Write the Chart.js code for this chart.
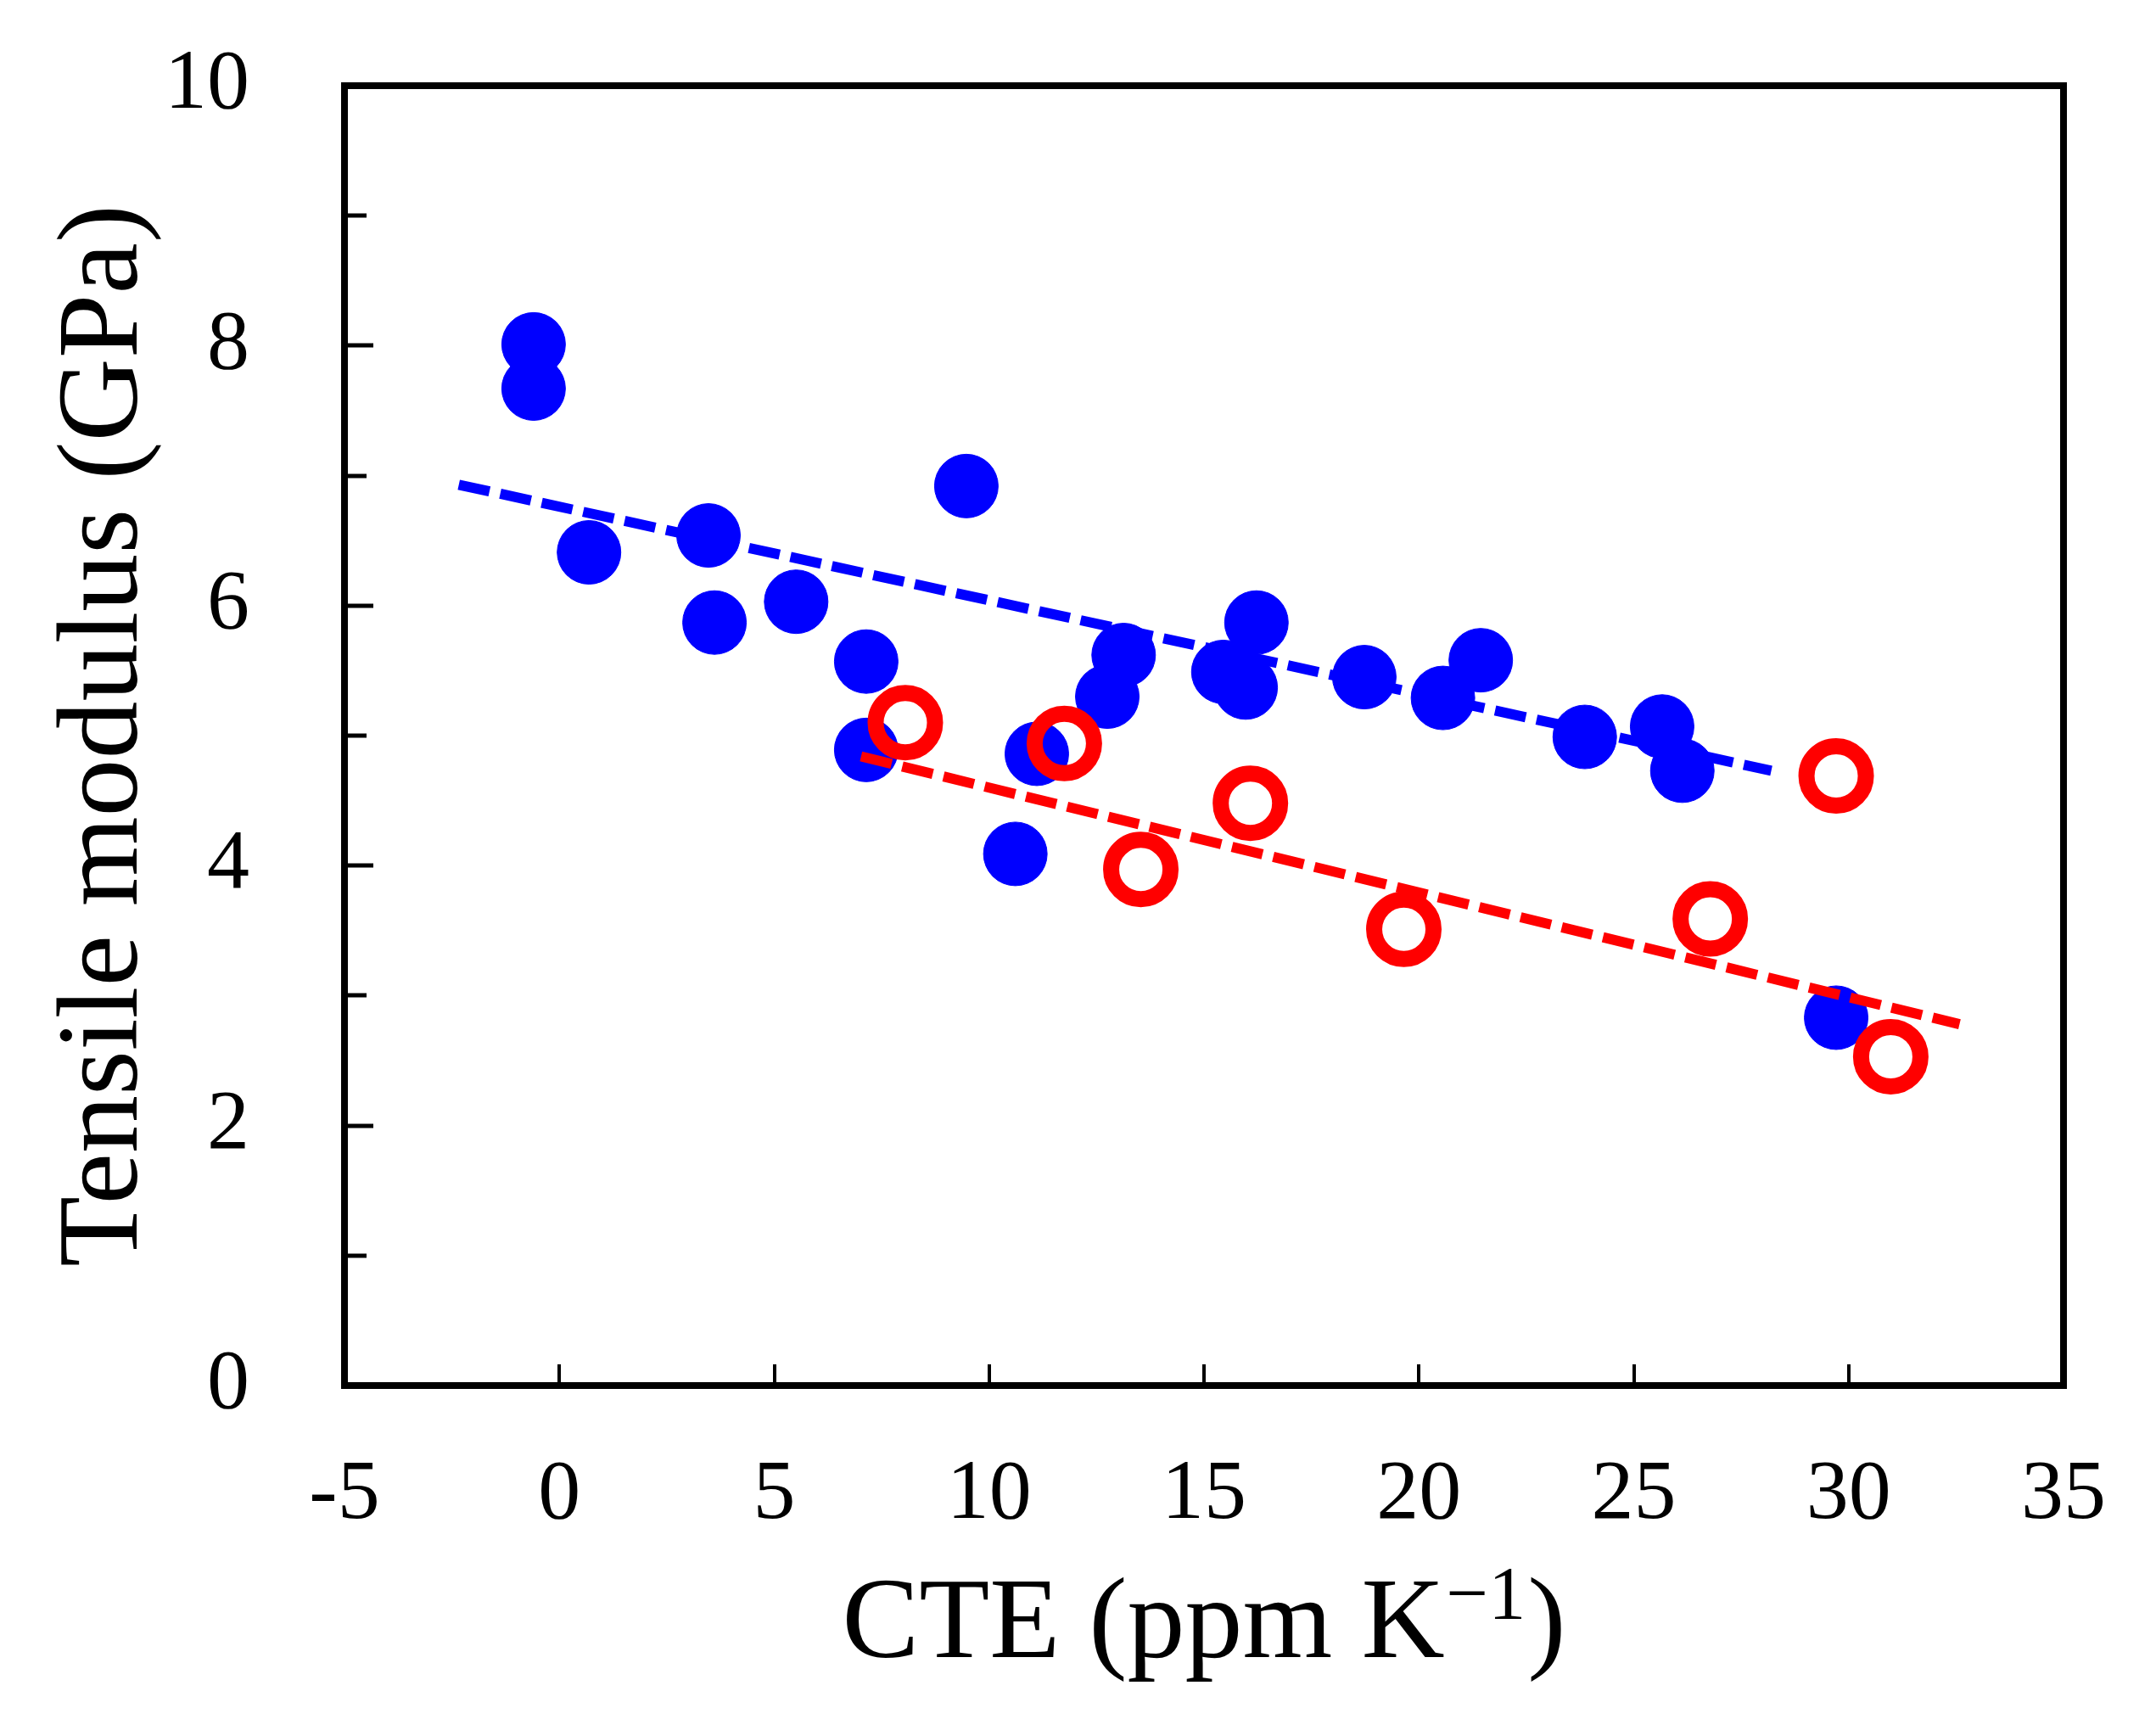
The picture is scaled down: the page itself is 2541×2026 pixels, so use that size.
<!DOCTYPE html>
<html>
<head>
<meta charset="utf-8">
<script src="https://cdn.jsdelivr.net/npm/chart.js@4.4.1/dist/chart.umd.min.js"></script>
<style>
  html, body { margin: 0; padding: 0; background: #fff; }
  #wrap { width: 2541px; height: 2026px; }
</style>
</head>
<body>
<div id="wrap"><canvas id="chart" width="2541" height="2026"></canvas></div>
<script>
// filled blue circles
const blueX = [-0.60, -0.60, 0.69, 3.47, 3.61, 5.51, 9.47, 7.14, 7.14, 11.11, 10.61, 13.13,
               12.75, 15.45, 15.97, 16.22, 18.73, 20.56, 21.44, 23.86, 25.66, 26.13, 29.71];
const blueY = [8.01, 7.67, 6.41, 6.54, 5.87, 6.03, 6.92, 5.57, 4.89, 4.86, 4.09, 5.62,
               5.30, 5.49, 5.37, 5.87, 5.45, 5.29, 5.58, 4.99, 5.07, 4.73, 2.83];

// open red circles
const redX = [8.05, 11.75, 13.53, 16.08, 19.65, 26.78, 29.71, 30.98];
const redY = [5.10, 4.94, 3.97, 4.48, 3.51, 3.59, 4.69, 2.53];

// dashed trend lines (end points)
const blueFitX = [-2.34, 28.20];
const blueFitY = [6.93, 4.73];
const redFitX = [7.02, 32.58];
const redFitY = [4.84, 2.78];

// axes
const xMin = -5, xMax = 35, xStep = 5;
const yMin = 0, yMax = 10, yStep = 1;
const xTitle = 'CTE (ppm K';
const xTitleSup = '\u22121';
const yTitle = 'Tensile modulus (GPa)';

const SERIF = "'Liberation Serif', 'Times New Roman', serif";
const toPts = (xs, ys) => xs.map((x, i) => ({ x, y: ys[i] }));

// wanted plot box inside the 2541x2026 canvas
const AREA = { left: 406, right: 2432, top: 101, bottom: 1633 };

// ── frame, inward ticks, x title ──
const framePlugin = {
    id: 'frame',
    afterDraw(chart) {
        const { ctx, chartArea: a, scales: { x, y } } = chart;
        ctx.save();
        ctx.strokeStyle = '#000';
        ctx.fillStyle = '#000';

        // y ticks, longer on labelled values
        ctx.lineWidth = 5;
        ctx.beginPath();
        for (let v = yMin + yStep; v < yMax; v += yStep) {
            const py = Math.round(y.getPixelForValue(v));
            const len = v % 2 === 0 ? 34 : 26;
            ctx.moveTo(a.left, py);
            ctx.lineTo(a.left + len, py);
        }
        ctx.stroke();

        // x ticks
        ctx.lineWidth = 4;
        ctx.beginPath();
        for (let v = xMin + xStep; v < xMax; v += xStep) {
            const px = Math.round(x.getPixelForValue(v));
            ctx.moveTo(px, a.bottom);
            ctx.lineTo(px, a.bottom - 25);
        }
        ctx.stroke();

        // box
        ctx.lineWidth = 8;
        ctx.strokeRect(a.left, a.top, a.right - a.left, a.bottom - a.top);

        // x title with superscript
        const big = '136px ' + SERIF, small = '88px ' + SERIF;
        ctx.textBaseline = 'alphabetic';
        ctx.textAlign = 'left';
        ctx.font = big;
        const w1 = ctx.measureText(xTitle).width;
        const w3 = ctx.measureText(')').width;
        ctx.font = small;
        const w2 = ctx.measureText(xTitleSup).width;
        const total = w1 + w2 + 4 + w3;
        let tx = (a.left + a.right) / 2 - total / 2;
        const base = 1953;
        ctx.font = big;
        ctx.fillText(xTitle, tx, base);
        tx += w1 + 2;
        ctx.font = small;
        ctx.fillText(xTitleSup, tx, base - 46);
        tx += w2 + 2;
        ctx.font = big;
        ctx.fillText(')', tx, base);

        ctx.restore();
    }
};

const chart = new Chart(document.getElementById('chart').getContext('2d'), {
    type: 'scatter',
    data: {
        datasets: [
            {
                label: 'open',
                data: toPts(redX, redY),
                pointRadius: 35, pointHoverRadius: 35,
                pointBorderWidth: 19, pointHoverBorderWidth: 19,
                borderColor: '#ff0000',
                backgroundColor: 'rgba(0,0,0,0)',
                order: 0,
            },
            {
                label: 'open fit',
                data: toPts(redFitX, redFitY),
                showLine: true, pointRadius: 0,
                borderColor: '#ff0000', borderWidth: 12,
                borderDash: [37, 13], borderCapStyle: 'butt',
                order: 1,
            },
            {
                label: 'filled fit',
                data: toPts(blueFitX, blueFitY),
                showLine: true, pointRadius: 0,
                borderColor: '#0000ff', borderWidth: 12,
                borderDash: [37, 13], borderCapStyle: 'butt',
                order: 2,
            },
            {
                label: 'filled',
                data: toPts(blueX, blueY),
                pointRadius: 37.5, pointHoverRadius: 37.5,
                pointBorderWidth: 1,
                borderColor: '#0000ff',
                backgroundColor: '#0000ff',
                order: 3,
            },
        ],
    },
    options: {
        responsive: false,
        animation: false,
        events: [],
        layout: {
            autoPadding: false,
            padding: { left: 0, right: 2541 - AREA.right, top: AREA.top, bottom: 0 },
        },
        plugins: { legend: { display: false }, tooltip: { enabled: false } },
        scales: {
            x: {
                type: 'linear', min: xMin, max: xMax,
                afterFit: s => {
                    s.height = 2026 - AREA.bottom;
                    s.paddingLeft = 0; s.paddingRight = 0;
                },
                grid: { display: false, drawTicks: false },
                border: { display: false },
                ticks: {
                    stepSize: xStep, autoSkip: false, maxRotation: 0,
                    padding: 70, color: '#000',
                    font: { family: SERIF, size: 100 },
                },
            },
            y: {
                type: 'linear', min: yMin, max: yMax,
                afterFit: s => {
                    s.width = AREA.left;
                    s.paddingTop = 0; s.paddingBottom = 0;
                },
                grid: { display: false, drawTicks: false },
                border: { display: false },
                ticks: {
                    stepSize: yStep, autoSkip: false,
                    padding: 112, color: '#000',
                    font: { family: SERIF, size: 100 },
                    callback: v => (v % 2 === 0 ? v : ''),
                },
                title: {
                    display: true, text: yTitle, color: '#000',
                    font: { family: SERIF, size: 136 },
                    padding: { top: 44, bottom: 0 },
                },
            },
        },
    },
    plugins: [framePlugin],
});
</script>
</body>
</html>
